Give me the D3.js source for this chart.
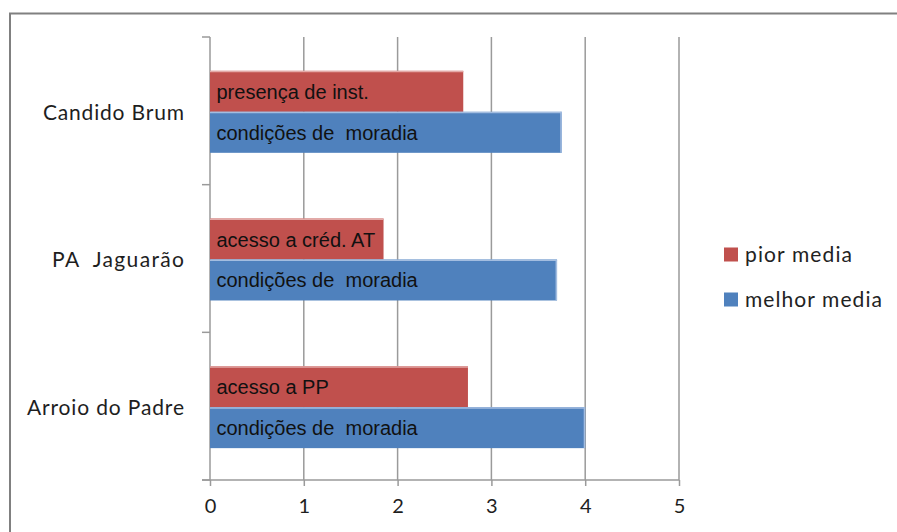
<!DOCTYPE html>
<html>
<head>
<meta charset="utf-8">
<script src="https://cdn.jsdelivr.net/npm/d3@7/dist/d3.min.js"></script>
<style>
  html, body { margin: 0; padding: 0; background: #fff; }
  svg { display: block; }
  text { white-space: pre; }
</style>
</head>
<body>
<svg id="chart" width="897" height="532"></svg>
<script>
// Categories, top to bottom
const categories = ["Candido Brum", "PA  Jaguarão", "Arroio do Padre"];
const seriesNames = ["pior media", "melhor media"];
const seriesColors = ["#C0504D", "#4F81BD"];
const seriesHighlights = ["#E3A9A7", "#A3BDE0"];
// Values per category
const piorValues = [2.7, 1.85, 2.75];
const melhorValues = [3.75, 3.7, 4.0];
// Text written inside each bar
const piorLabels = ["presença de inst.", "acesso a créd. AT", "acesso a PP"];
const melhorLabels = ["condições de  moradia", "condições de  moradia", "condições de  moradia"];
const xTicks = [0, 1, 2, 3, 4, 5];

const svg = d3.select("#chart");
const plot = { left: 210, right: 679, top: 37, bottom: 480 };
const gridColor = "#9a9a9a";
const labelFont = "Lato, 'Open Sans', sans-serif";

// outer frame (runs past the right and bottom edges)
svg.append("rect")
  .attr("x", 10).attr("y", 13.5)
  .attr("width", 1000).attr("height", 1000)
  .attr("fill", "#fff")
  .attr("stroke", "#808080").attr("stroke-width", 2);

const x = d3.scaleLinear().domain([0, 5]).range([plot.left, plot.right]);
const y0 = d3.scaleBand().domain(categories)
  .range([plot.top, plot.bottom])
  .paddingInner(0.445).paddingOuter(0.2225);
const y1 = d3.scaleBand().domain(seriesNames).range([0, y0.bandwidth()]);

// vertical gridlines
svg.append("g").selectAll("line")
  .data(xTicks.filter(d => d > 0))
  .join("line")
  .attr("x1", d => x(d)).attr("x2", d => x(d))
  .attr("y1", plot.top).attr("y2", plot.bottom)
  .attr("stroke", gridColor).attr("stroke-width", 1.5);

// bottom axis
const xAxis = d3.axisBottom(x).tickValues(xTicks).tickSize(6).tickPadding(13).tickFormat(d3.format("d"));
const gx = svg.append("g").attr("transform", `translate(0,${plot.bottom})`).call(xAxis);
gx.select(".domain").remove();
gx.selectAll(".tick line").attr("stroke", gridColor).attr("stroke-width", 1.5);
gx.selectAll(".tick text")
  .attr("font-family", labelFont).attr("font-size", 20)
  .attr("fill", "#1e1e1e");
svg.append("line")
  .attr("x1", plot.left - 8).attr("x2", plot.right)
  .attr("y1", plot.bottom).attr("y2", plot.bottom)
  .attr("stroke", gridColor).attr("stroke-width", 1.5);

// left axis with ticks between categories
const step = y0.step();
const boundaries = [plot.top, ...categories.map(c => y0(c) - step * 0.2225 + step)];
svg.append("line")
  .attr("x1", plot.left).attr("x2", plot.left)
  .attr("y1", plot.top).attr("y2", plot.bottom)
  .attr("stroke", gridColor).attr("stroke-width", 1.5);
svg.append("g").selectAll("line")
  .data(boundaries)
  .join("line")
  .attr("x1", plot.left - 8).attr("x2", plot.left)
  .attr("y1", d => d).attr("y2", d => d)
  .attr("stroke", gridColor).attr("stroke-width", 1.5);

// category labels
const catWidths = [141, 132, 157];
svg.append("g").selectAll("text")
  .data(categories)
  .join("text")
  .attr("x", 184)
  .attr("y", d => y0(d) + y0.bandwidth() / 2 + 1)
  .attr("dy", "0.38em")
  .attr("text-anchor", "end")
  .attr("font-family", labelFont).attr("font-size", 21)
  .attr("fill", "#1e1e1e")
  .attr("textLength", (d, i) => catWidths[i])
  .attr("lengthAdjust", "spacing")
  .text(d => d);

// bars
const rows = categories.map((c, i) => ({
  cat: c,
  bars: [
    { key: seriesNames[0], value: piorValues[i], label: piorLabels[i], si: 0 },
    { key: seriesNames[1], value: melhorValues[i], label: melhorLabels[i], si: 1 }
  ]
}));

const groups = svg.append("g").selectAll("g")
  .data(rows)
  .join("g")
  .attr("transform", d => `translate(0,${y0(d.cat) + 1})`);

groups.each(function(row) {
  const g = d3.select(this);
  row.bars.forEach(b => {
    const top = y1(b.key);
    g.append("rect")
      .attr("x", x(0)).attr("y", top)
      .attr("width", x(b.value) - x(0))
      .attr("height", y1.bandwidth())
      .attr("fill", seriesColors[b.si]);
    g.append("line")
      .attr("x1", x(0)).attr("x2", x(b.value))
      .attr("y1", top + 0.75).attr("y2", top + 0.75)
      .attr("stroke", seriesHighlights[b.si]).attr("stroke-width", 1.5);
    if (b.si === 1) {
      g.append("line")
        .attr("x1", x(b.value) - 0.75).attr("x2", x(b.value) - 0.75)
        .attr("y1", top).attr("y2", top + y1.bandwidth())
        .attr("stroke", seriesHighlights[b.si]).attr("stroke-width", 1.5);
    }
    g.append("text")
      .attr("x", x(0) + 6.5)
      .attr("y", top + 28)
      .attr("font-family", "'Liberation Sans', Arial, sans-serif")
      .attr("font-size", 20)
      .attr("fill", "#111")
      .text(b.label);
  });
});

// legend
const legend = svg.append("g");
const legendY = [254.5, 299.5];
const legendWidths = [107, 137];
seriesNames.forEach((name, i) => {
  legend.append("rect")
    .attr("x", 724).attr("y", legendY[i] - 7)
    .attr("width", 14).attr("height", 14)
    .attr("fill", seriesColors[i]);
  legend.append("text")
    .attr("x", 745).attr("y", legendY[i] + 7)
    .attr("font-family", labelFont).attr("font-size", 21)
    .attr("fill", "#222")
    .attr("textLength", legendWidths[i])
    .attr("lengthAdjust", "spacing")
    .text(name);
});
</script>
</body>
</html>
